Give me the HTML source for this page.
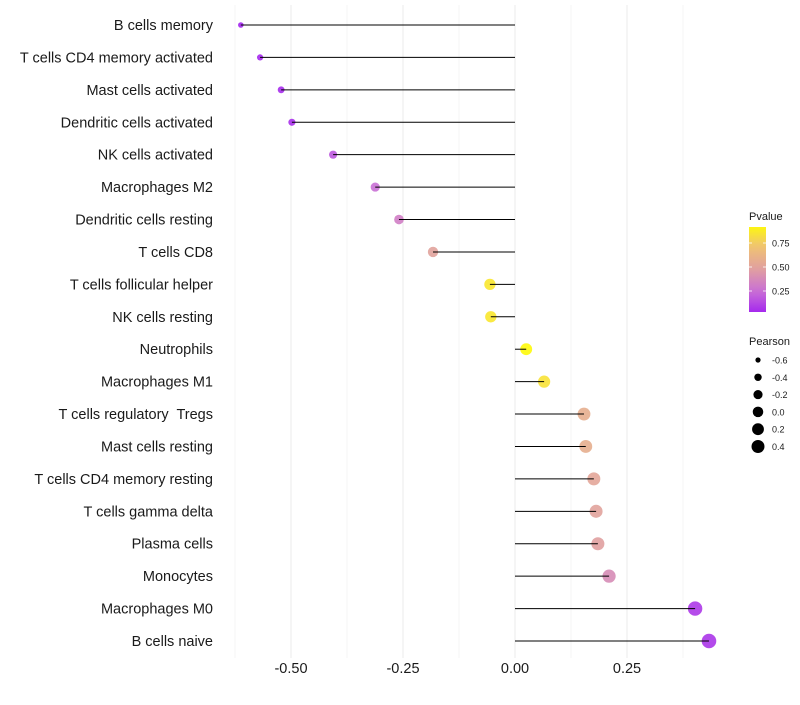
<!DOCTYPE html>
<html><head><meta charset="utf-8"><style>
body{margin:0;background:#fff;font-family:"Liberation Sans",sans-serif}
text{white-space:pre}
</style></head><body>
<svg id="chart" width="800" height="700" xmlns="http://www.w3.org/2000/svg" font-family="Liberation Sans, sans-serif"></svg>
<script>
const categories=["B cells memory","T cells CD4 memory activated","Mast cells activated","Dendritic cells activated","NK cells activated","Macrophages M2","Dendritic cells resting","T cells CD8","T cells follicular helper","NK cells resting","Neutrophils","Macrophages M1","T cells regulatory  Tregs","Mast cells resting","T cells CD4 memory resting","T cells gamma delta","Plasma cells","Monocytes","Macrophages M0","B cells naive"];
const pearson=[-0.612,-0.569,-0.522,-0.498,-0.406,-0.312,-0.259,-0.183,-0.056,-0.054,0.025,0.065,0.154,0.158,0.176,0.181,0.185,0.21,0.402,0.433];
const pvalues=[0.02,0.03,0.04,0.05,0.18,0.26,0.33,0.52,0.9,0.9,0.98,0.88,0.6,0.6,0.54,0.52,0.5,0.4,0.08,0.07];
const xTicks=[-0.5,-0.25,0,0.25];
const xTickLabels=["-0.50","-0.25","0.00","0.25"];
const sizeLegend=[-0.6,-0.4,-0.2,0.0,0.2,0.4];
const sizeLegendLabels=["-0.6","-0.4","-0.2","0.0","0.2","0.4"];
const colorLegend=[0.25,0.5,0.75];

const svg=document.getElementById('chart');
const NS="http://www.w3.org/2000/svg";
const x=v=>515+v*448;
const y=i=>25+i*(616/19);
const r=v=>Math.sqrt(Math.max(1,7.8+43.5*(v+0.612)));
function col(p){
  const stops=[[0,[160,32,240]],[0.25,[200,110,215]],[0.5,[224,160,160]],[0.75,[240,195,115]],[1,[255,255,0]]];
  let k=0;while(k<stops.length-2&&p>stops[k+1][0])k++;
  const a=stops[k],b=stops[k+1];
  const t=Math.min(1,Math.max(0,(p-a[0])/(b[0]-a[0])));
  const c=a[1].map((v,j)=>Math.round(v+(b[1][j]-v)*t));
  return `rgb(${c})`;
}
function el(tag,attrs,text){const e=document.createElementNS(NS,tag);for(const k in attrs)e.setAttribute(k,attrs[k]);if(text!==undefined)e.textContent=text;svg.appendChild(e);return e;}
for(let g=-0.625;g<=0.45;g+=0.125){
  const major=Math.abs((g*4)-Math.round(g*4))<1e-6;
  const gl=el('line',{x1:x(g),x2:x(g),y1:5,y2:658,stroke:major?'#ebebeb':'#f3f3f3','stroke-width':major?1:0.7});
  
  
}
categories.forEach((c,i)=>{
  const t=el('text',{x:213,y:y(i)+5,'text-anchor':'end','font-size':14.5,fill:'#1a1a1a'},c);
  
  
});
categories.forEach((c,i)=>{
  const v=pearson[i];
  const pt=el('circle',{cx:x(v),cy:y(i),r:r(v),fill:col(pvalues[i]),'fill-opacity':0.9});
  
  
  const ln=el('line',{x1:x(0),x2:x(v),y1:y(i),y2:y(i),stroke:'#000','stroke-width':1});
  
  
});
xTicks.forEach((v,i)=>{
  const t=el('text',{x:x(v),y:673,'text-anchor':'middle','font-size':14.5,fill:'#1a1a1a'},xTickLabels[i]);
  
  
});
const defs=el('defs',{});
const lg=document.createElementNS(NS,'linearGradient');lg.setAttribute('id','pg');lg.setAttribute('x1','0');lg.setAttribute('y1','1');lg.setAttribute('x2','0');lg.setAttribute('y2','0');
for(let k=0;k<=10;k++){const s=document.createElementNS(NS,'stop');const p=0.03+k/10*0.93;s.setAttribute('offset',k/10);s.setAttribute('stop-color',col(p));lg.appendChild(s);}
defs.appendChild(lg);
const lt=el('text',{x:749,y:220,'font-size':11,fill:'#1a1a1a'},'Pvalue');


const bar=el('rect',{x:749,y:227,width:17,height:85,fill:'url(#pg)'});


const py=p=>315-p*96;
colorLegend.forEach(p=>{
  el('line',{x1:749,x2:752,y1:py(p),y2:py(p),stroke:'#fff','stroke-width':0.8});
  el('line',{x1:763,x2:766,y1:py(p),y2:py(p),stroke:'#fff','stroke-width':0.8});
  const t=el('text',{x:772,y:py(p)+3.5,'font-size':9,fill:'#1a1a1a'},p.toFixed(2));
  
  
});
const st=el('text',{x:749,y:345,'font-size':11,fill:'#1a1a1a'},'Pearson');


sizeLegend.forEach((v,i)=>{
  const cy=360+i*17.3;
  const c=el('circle',{cx:758,cy:cy,r:r(v)*0.9,fill:'#000'});
  
  
  const t=el('text',{x:772,y:cy+3.5,'font-size':9,fill:'#1a1a1a'},sizeLegendLabels[i]);
  
  
});
</script>
</body></html>
